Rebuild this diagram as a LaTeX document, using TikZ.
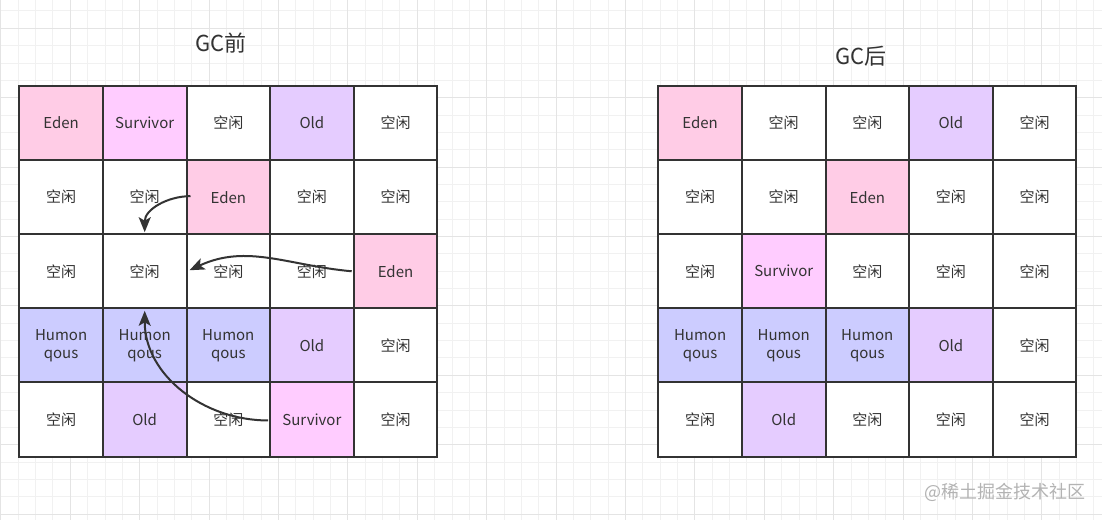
\documentclass[tikz,border=0pt]{standalone}
\usepackage{fontspec}
\newfontfamily\cjk{Noto Sans CJK SC}
\usetikzlibrary{arrows.meta}
\definecolor{ink}{HTML}{333333}
\definecolor{gridminor}{HTML}{F1F1F1}
\definecolor{gridmajor}{HTML}{E4E4E4}
\definecolor{edenc}{HTML}{FFCCE6}
\definecolor{survc}{HTML}{FFCCFF}
\definecolor{oldc}{HTML}{E5CCFF}
\definecolor{humc}{HTML}{CCCCFF}
\definecolor{markc}{HTML}{B3B3B3}
\tikzset{
  cell/.style={draw=ink, line width=2pt, minimum width=83.6pt, minimum height=74.1pt,
    inner sep=0pt, align=center, text=ink, font=\cjk\fontsize{15}{18}\selectfont},
  eden/.style={fill=edenc},
  surv/.style={fill=survc},
  old/.style={fill=oldc},
  hum/.style={fill=humc},
  free/.style={fill=white},
  title/.style={text=ink, font=\cjk\fontsize{22}{26}\selectfont, inner sep=0pt},
  arr/.style={draw=ink, line width=2pt, -{Stealth[length=15pt,width=12pt,inset=3.5pt]}},
}
\begin{document}
\begin{tikzpicture}[x=1pt,y=1pt]
\useasboundingbox (0,0) rectangle (1102,-520);
\fill[white] (0,0) rectangle (1102,-520);
\begin{scope}
\clip (0,0) rectangle (1102,-520);
\foreach \i in {0,...,64} \draw[gridminor, line width=1pt] ({0.9+\i*17.35},0) -- ++(0,-520);
\foreach \j in {0,...,30} \draw[gridminor, line width=1pt] (0,{-(10.95+\j*17.35)}) -- ++(1102,0);
\foreach \i in {0,...,16} \draw[gridmajor, line width=1pt] ({0.9+\i*69.4},0) -- ++(0,-520);
\foreach \j in {0,...,7} \draw[gridmajor, line width=1pt] (0,{-(28.3+\j*69.4)}) -- ++(1102,0);
\end{scope}

\node[title] (tl) at (221,-43) {GC前};
\node[title] (tr) at (861,-56) {GC后};

% left grid
\foreach \r/\c/\s/\t in {
  0/0/eden/Eden, 0/1/surv/Survivor, 0/2/free/空闲, 0/3/old/Old, 0/4/free/空闲,
  1/0/free/空闲, 1/1/free/空闲, 1/2/eden/Eden, 1/3/free/空闲, 1/4/free/空闲,
  2/0/free/空闲, 2/1/free/空闲, 2/2/free/空闲, 2/3/free/空闲, 2/4/eden/Eden,
  3/0/hum/{Humon\\qous}, 3/1/hum/{Humon\\qous}, 3/2/hum/{Humon\\qous}, 3/3/old/Old, 3/4/free/空闲,
  4/0/free/空闲, 4/1/old/Old, 4/2/free/空闲, 4/3/surv/Survivor, 4/4/free/空闲}
  \node[cell,\s] (L-\r-\c) at ({19.3+83.6*(\c+0.5)},{-(86+74.1*(\r+0.5))}) {\t};

% right grid
\foreach \r/\c/\s/\t in {
  0/0/eden/Eden, 0/1/free/空闲, 0/2/free/空闲, 0/3/old/Old, 0/4/free/空闲,
  1/0/free/空闲, 1/1/free/空闲, 1/2/eden/Eden, 1/3/free/空闲, 1/4/free/空闲,
  2/0/free/空闲, 2/1/surv/Survivor, 2/2/free/空闲, 2/3/free/空闲, 2/4/free/空闲,
  3/0/hum/{Humon\\qous}, 3/1/hum/{Humon\\qous}, 3/2/hum/{Humon\\qous}, 3/3/old/Old, 3/4/free/空闲,
  4/0/free/空闲, 4/1/old/Old, 4/2/free/空闲, 4/3/free/空闲, 4/4/free/空闲}
  \node[cell,\s] (R-\r-\c) at ({658.3+83.6*(\c+0.5)},{-(86+74.1*(\r+0.5))}) {\t};

% arrows
\draw[arr] ([xshift=5pt,yshift=1pt]L-1-2.west) to[out=180,in=90] ([yshift=1pt]L-2-1.north);
\draw[arr] ([xshift=-1pt]L-2-4.west) to[out=175,in=25] ([xshift=2pt,yshift=1pt]L-2-1.east);
\draw[arr] ([xshift=-1pt,yshift=-1pt]L-4-3.west) to[out=180,in=-90] ([yshift=-1.5pt]L-2-1.south);

\node[text=markc, font=\cjk\fontsize{18}{20}\selectfont, inner sep=0pt] (wm) at (1005,-492) {@稀土掘金技术社区};
\end{tikzpicture}
\end{document}
